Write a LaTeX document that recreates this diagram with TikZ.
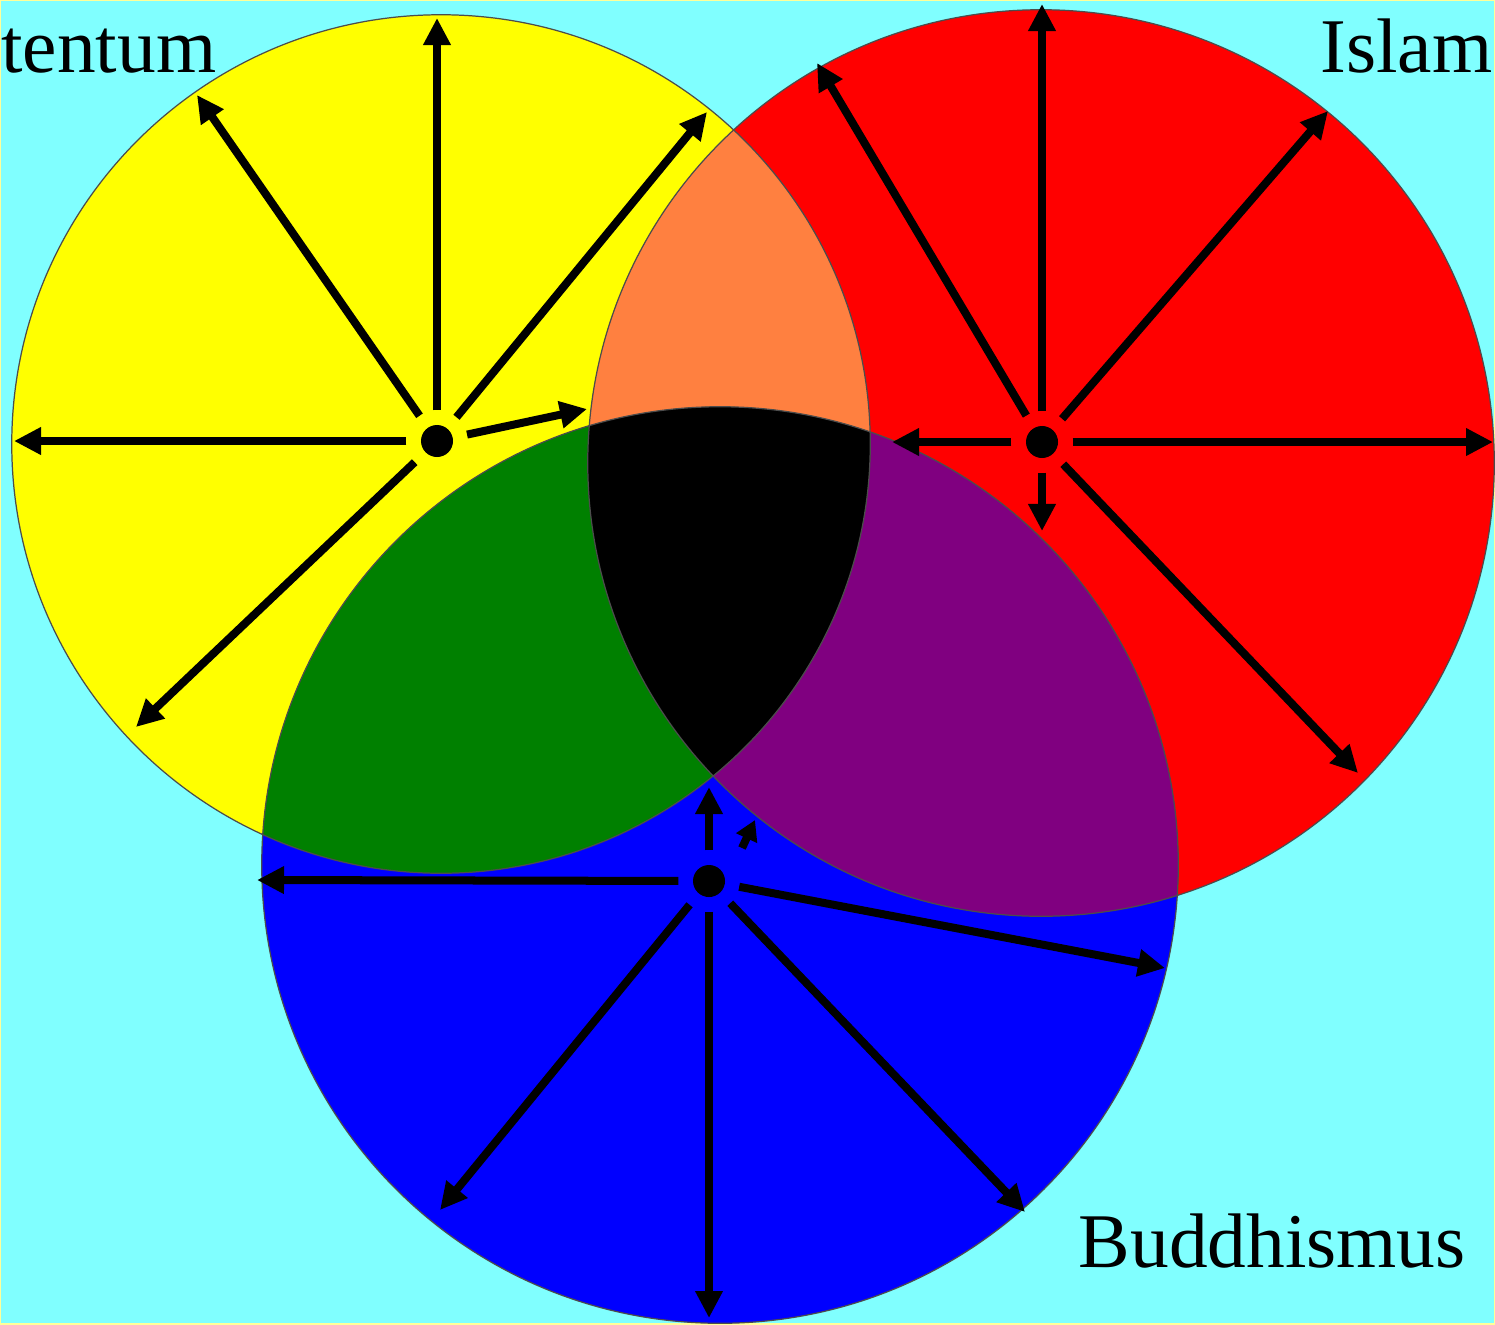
\documentclass[tikz,border=0pt]{standalone}
\usepackage{fontspec}
\setmainfont{Liberation Serif}
\usetikzlibrary{arrows.meta}

\definecolor{bgcyan}{HTML}{80FFFF}
\definecolor{frameyel}{HTML}{FFFF99}
\definecolor{vennY}{HTML}{FFFF00}
\definecolor{vennR}{HTML}{FF0000}
\definecolor{vennB}{HTML}{0000FF}
\definecolor{orangeYR}{HTML}{FF8040}
\definecolor{greenYB}{HTML}{008000}
\definecolor{purpleRB}{HTML}{800080}

\begin{document}
\begin{tikzpicture}[
  x=0.01cm, y=-0.01cm,
  font=\fontsize{22}{26}\selectfont,
  rim/.style   = {draw=black!70, line width=0.35pt},
  hub/.style   = {circle, fill=black, inner sep=0pt, minimum size=0.32cm},
  ray/.style   = {-{Triangle[length=2.7mm,width=2.6mm]}, line width=0.08cm,
                  shorten <=0.14cm},
  label/.style = {inner sep=0pt},
]

\useasboundingbox (0,0) rectangle (1495,1324);
\fill[bgcyan] (0,0) rectangle (1495,1324);
\draw[frameyel, line width=0.02cm] (0,0) rectangle (1495,1324);
\clip (0,0) rectangle (1495,1324);

% ---- circles ---------------------------------------------------------------
\coordinate (ycen) at (441,444);
\coordinate (rcen) at (1041,463);
\coordinate (bcen) at (720,865);

\fill[vennY] (ycen) circle[radius=4.29cm];
\fill[vennR] (rcen) circle[radius=4.53cm];
\fill[vennB] (bcen) circle[radius=4.58cm];

\begin{scope}
  \clip (rcen) circle[radius=4.53cm];
  \fill[purpleRB] (bcen) circle[radius=4.58cm];
\end{scope}
\begin{scope}
  \clip (ycen) circle[radius=4.29cm];
  \fill[orangeYR] (rcen) circle[radius=4.53cm];
  \fill[greenYB]  (bcen) circle[radius=4.58cm];
  \clip (rcen) circle[radius=4.53cm];
  \fill[black]    (bcen) circle[radius=4.58cm];
\end{scope}

\draw[rim] (ycen) circle[radius=4.29cm];
\draw[rim] (rcen) circle[radius=4.53cm];
\draw[rim] (bcen) circle[radius=4.58cm];

% ---- yellow hub ------------------------------------------------------------
\node[hub] (yhub) at (437,441) {};
\coordinate (yN)  at (437,18);
\coordinate (yNW) at (197,95);
\coordinate (yNE) at (707,112);
\coordinate (yW)  at (14,441);
\coordinate (ySW) at (136,727);
\coordinate (yE)  at (587,409);

\draw[ray] (yhub) -- (yN);
\draw[ray] (yhub) -- (yNW);
\draw[ray] (yhub) -- (yNE);
\draw[ray] (yhub) -- (yW);
\draw[ray] (yhub) -- (ySW);
\draw[ray] (yhub) -- (yE);

% ---- red hub ---------------------------------------------------------------
\node[hub] (rhub) at (1042,442) {};
\coordinate (rN)  at (1042,4);
\coordinate (rNW) at (817,63);
\coordinate (rNE) at (1328,111);
\coordinate (rE)  at (1493,442);
\coordinate (rW)  at (892,442);
\coordinate (rS)  at (1042,531);
\coordinate (rSE) at (1358,773);

\draw[ray] (rhub) -- (rN);
\draw[ray] (rhub) -- (rNW);
\draw[ray] (rhub) -- (rNE);
\draw[ray] (rhub) -- (rE);
\draw[ray] (rhub) -- (rW);
\draw[ray] (rhub) -- (rS);
\draw[ray] (rhub) -- (rSE);

% ---- blue hub --------------------------------------------------------------
\node[hub] (bhub) at (709,881) {};
\coordinate (bN)  at (709,787);
\coordinate (bW)  at (257,880);
\coordinate (bE)  at (1165,968);
\coordinate (bSW) at (440,1210);
\coordinate (bS)  at (709,1318);
\coordinate (bSE) at (1025,1212);
\coordinate (bTail) at (742,848);
\coordinate (bTip)  at (755,820);

\draw[ray] (bhub) -- (bN);
\draw[ray] (bhub) -- (bW);
\draw[ray] (bhub) -- (bE);
\draw[ray] (bhub) -- (bSW);
\draw[ray] (bhub) -- (bS);
\draw[ray] (bhub) -- (bSE);
\draw[ray, shorten <=0pt, -{Triangle[length=2mm,width=2.2mm]}] (bTail) -- (bTip);

% ---- names -----------------------------------------------------------------
\node[label, anchor=base east] (christ) at (217,72)    {tentum};
\node[label, anchor=base east] (islam)  at (1493,72)   {Islam};
\node[label, anchor=base west] (budd)   at (1078,1267) {Buddhismus};

\end{tikzpicture}
\end{document}
